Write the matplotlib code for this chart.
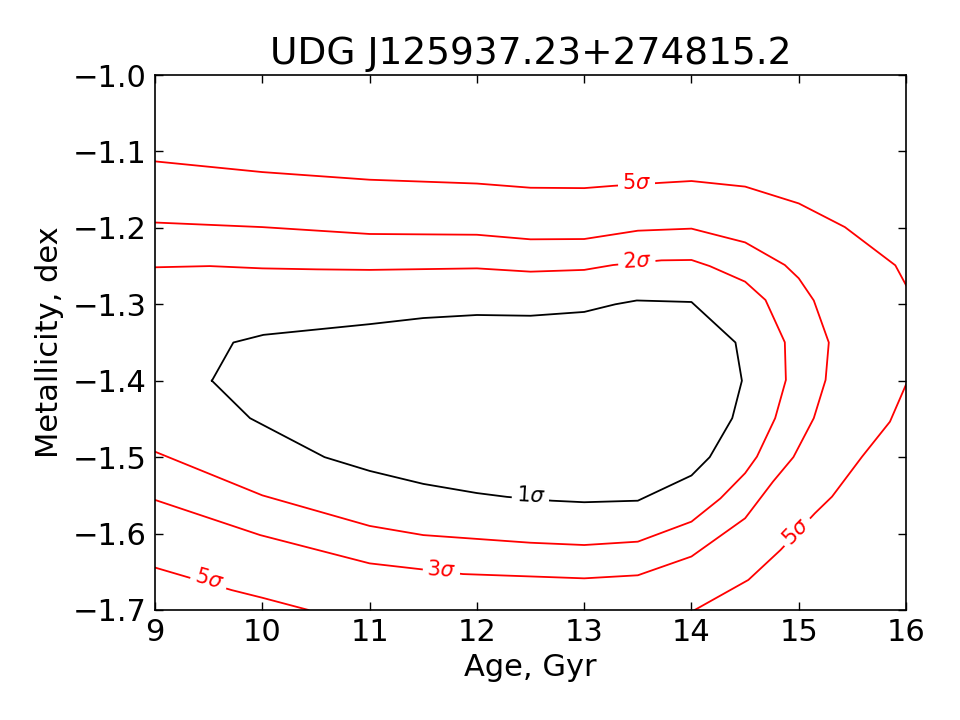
import matplotlib
matplotlib.use("Agg")
import matplotlib.pyplot as plt

# ---- data (Age in Gyr, Metallicity in dex) ----
title = "UDG J125937.23+274815.2"

# 1 sigma contour (closed)
s1_age = [9.53, 9.73, 10.01, 11.0, 11.5, 12.0, 12.5, 13.0, 13.29, 13.49, 14.0,
          14.41, 14.47, 14.38, 14.17, 14.0, 13.5, 13.0, 12.7, 12.28, 12.0,
          11.5, 11.0, 10.58, 9.885, 9.53]
s1_met = [-1.400, -1.350, -1.340, -1.326, -1.318, -1.314, -1.315, -1.310,
          -1.300, -1.295, -1.297, -1.350, -1.400, -1.449, -1.500, -1.524,
          -1.557, -1.559, -1.557, -1.552, -1.547, -1.535, -1.518, -1.500,
          -1.449, -1.400]

# 2 sigma contour
s2_age = [9.0, 9.51, 10.0, 10.51, 11.0, 12.0, 12.5, 13.0, 13.27, 13.72, 14.0,
          14.17, 14.5, 14.69, 14.87, 14.88, 14.78, 14.61, 14.5, 14.27, 14.0,
          13.5, 13.0, 12.5, 12.0, 11.5, 11.0, 10.0, 9.0]
s2_met = [-1.2516, -1.250, -1.253, -1.2543, -1.255, -1.253, -1.2573, -1.255,
          -1.2486, -1.2425, -1.242, -1.250, -1.2704, -1.2944, -1.3497, -1.399,
          -1.449, -1.4994, -1.521, -1.554, -1.5844, -1.6106, -1.615, -1.612,
          -1.607, -1.602, -1.590, -1.550, -1.4929]

# 3 sigma contour
s3_age = [9.0, 10.0, 11.0, 12.0, 12.5, 13.0, 13.5, 14.0, 14.5, 14.87, 15.0,
          15.14, 15.28, 15.25, 15.14, 14.95, 14.76, 14.5, 14.0, 13.5, 13.0,
          12.68, 11.87, 11.0, 9.98, 9.0]
s3_met = [-1.193, -1.199, -1.208, -1.209, -1.215, -1.2146, -1.2037, -1.201,
          -1.219, -1.2486, -1.266, -1.295, -1.350, -1.399, -1.449, -1.500,
          -1.532, -1.580, -1.630, -1.6546, -1.6586, -1.657, -1.653, -1.639,
          -1.602, -1.556]

# 5 sigma contour (three pieces inside the window)
s5a_age = [9.0, 10.0, 11.0, 12.0, 12.5, 13.0, 13.27, 13.72, 14.0, 14.5, 15.0,
           15.43, 15.9, 16.0]
s5a_met = [-1.113, -1.127, -1.137, -1.142, -1.1475, -1.148, -1.145, -1.141,
           -1.1387, -1.146, -1.168, -1.199, -1.249, -1.275]
s5b_age = [16.0, 15.85, 15.59, 15.31, 15.15, 14.83, 14.53, 14.03]
s5b_met = [-1.405, -1.4536, -1.4994, -1.5517, -1.5735, -1.6215, -1.6607, -1.700]
s5c_age = [9.0, 9.715, 10.0, 10.43]
s5c_met = [-1.6445, -1.674, -1.684, -1.700]

# contour labels: text, age, metallicity
lab_text = [r"$1\sigma$", r"$2\sigma$", r"$3\sigma$", r"$5\sigma$", r"$5\sigma$", r"$5\sigma$"]
lab_age = [12.5, 13.49, 11.67, 13.49, 14.98, 9.506]
lab_met = [-1.551, -1.2435, -1.648, -1.1416, -1.5975, -1.660]

x_ticks = [9, 10, 11, 12, 13, 14, 15, 16]
y_ticks = [-1.7, -1.6, -1.5, -1.4, -1.3, -1.2, -1.1, -1.0]

# ---- drawing ----
plt.rcParams["font.family"] = ["DejaVu Sans"]
fig = plt.figure(figsize=(9.6, 7.2), dpi=100)
ax = fig.add_axes([0.1615, 0.1528, 0.7823, 0.7430])

lw = 1.3
ax.plot(s1_age, s1_met, color="black", lw=lw)
ax.plot(s2_age, s2_met, color="red", lw=lw)
ax.plot(s3_age, s3_met, color="red", lw=lw)
ax.plot(s5a_age, s5a_met, color="red", lw=lw)
ax.plot(s5b_age, s5b_met, color="red", lw=lw)
ax.plot(s5c_age, s5c_met, color="red", lw=lw)

lab_colors = ["black", "red", "red", "red", "red", "red"]
lab_rot = [-3, 3, -4, 0, 46, -16]
for t, a, m, c, r in zip(lab_text, lab_age, lab_met, lab_colors, lab_rot):
    ax.text(a, m, t, color=c, fontsize=15, rotation=r, ha="center", va="center",
            rotation_mode="anchor",
            bbox=dict(facecolor="white", edgecolor="none", pad=3))

ax.set_xlim(9, 16)
ax.set_ylim(-1.7, -1.0)
ax.set_xticks(x_ticks)
ax.set_yticks(y_ticks)
ax.set_xticklabels([str(v) for v in x_ticks])
ax.set_yticklabels(["\u2212%.1f" % abs(v) for v in y_ticks])
ax.tick_params(direction="in", top=True, right=True, length=6, width=1,
               labelsize=22, pad=6)
for s in ax.spines.values():
    s.set_linewidth(1.2)

ax.set_xlabel("Age, Gyr", fontsize=22, labelpad=4)
ax.set_ylabel("Metallicity, dex", fontsize=22, labelpad=6)
ax.set_title(title, fontsize=27, pad=8)

fig.savefig("out.png", dpi=100)
